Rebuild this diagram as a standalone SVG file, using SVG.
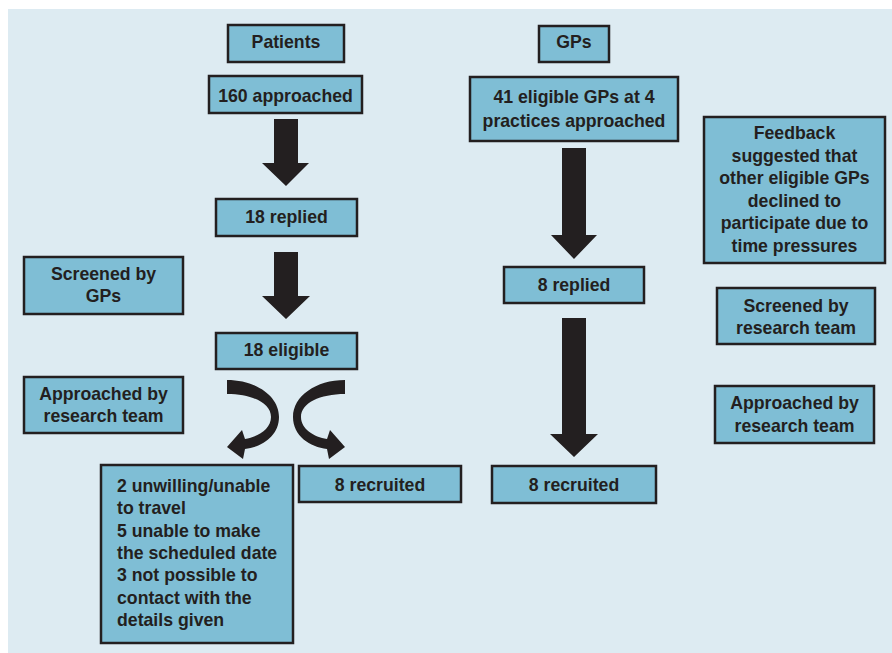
<svg xmlns="http://www.w3.org/2000/svg" width="892" height="653" viewBox="0 0 892 653">
<style>
.box{fill:#7fbed5;stroke:#231f20;stroke-width:2.5}
.t{font-family:"Liberation Sans",Arial,sans-serif;font-weight:bold;font-size:17.7px;fill:#231f20;text-anchor:middle}
.tl{text-anchor:start}
.arr{fill:#231f20}
</style>
<rect x="0" y="0" width="892" height="653" fill="#ffffff"/>
<rect x="8" y="9" width="884" height="644" fill="#ddebf2"/>

<g id="connectors">
  <polygon class="arr" points="274,119 298,119 298,163 309,163 286,186 262,163 274,163"/>
  <polygon class="arr" points="274,252 298,252 298,296 310,296 286,319 262,296 274,296"/>
  <polygon class="arr" points="562,148 586,148 586,235 597,235 574,259 551,235 562,235"/>
  <polygon class="arr" points="562,318 586,318 586,434 598,434 574,457 550,434 562,434"/>
  <path id="curveL" class="arr" d="M227,380 C256,380 279,396 279,417 C279,436 262,447 245,449 L243,459 L227,447 L242,430 L245,439 C258,437 271,429 271,417 C271,403 252,394 227,394 Z"/>
  <path id="curveR" class="arr" transform="matrix(-1,0,0,1,572,0)" d="M227,380 C256,380 279,396 279,417 C279,436 262,447 245,449 L243,459 L227,447 L242,430 L245,439 C258,437 271,429 271,417 C271,403 252,394 227,394 Z"/>
</g>

<g id="patients">
  <rect class="box" x="228" y="25" width="116" height="37"/>
  <text class="t" x="286" y="48">Patients</text>
</g>
<g id="approached160">
  <rect class="box" x="209" y="76" width="153" height="37"/>
  <text class="t" x="285.5" y="102">160 approached</text>
</g>
<g id="replied18">
  <rect class="box" x="216" y="199" width="141" height="37"/>
  <text class="t" x="286.5" y="223">18 replied</text>
</g>
<g id="eligible18">
  <rect class="box" x="216" y="333" width="141" height="36"/>
  <text class="t" x="286.5" y="356">18 eligible</text>
</g>
<g id="screenedGPs">
  <rect class="box" x="24" y="257" width="159" height="57"/>
  <text class="t" x="103.5" y="280">Screened by</text>
  <text class="t" x="103.5" y="302">GPs</text>
</g>
<g id="approachedLeft">
  <rect class="box" x="24" y="377" width="159" height="56"/>
  <text class="t" x="103.5" y="400">Approached by</text>
  <text class="t" x="103.5" y="422">research team</text>
</g>
<g id="declined">
  <rect class="box" x="101" y="465" width="192" height="178"/>
  <text class="t tl" x="117" y="492">2 unwilling/unable</text>
  <text class="t tl" x="117" y="514.3">to travel</text>
  <text class="t tl" x="117" y="536.6">5 unable to make</text>
  <text class="t tl" x="117" y="558.9">the scheduled date</text>
  <text class="t tl" x="117" y="581.2">3 not possible to</text>
  <text class="t tl" x="117" y="603.5">contact with the</text>
  <text class="t tl" x="117" y="625.8">details given</text>
</g>
<g id="recruitedLeft">
  <rect class="box" x="299" y="466" width="162" height="36"/>
  <text class="t" x="380" y="491">8 recruited</text>
</g>
<g id="gps">
  <rect class="box" x="539" y="26" width="70" height="36"/>
  <text class="t" x="574" y="48">GPs</text>
</g>
<g id="eligibleGPs">
  <rect class="box" x="470" y="77" width="208" height="64"/>
  <text class="t" x="574" y="103">41 eligible GPs at 4</text>
  <text class="t" x="574" y="127">practices approached</text>
</g>
<g id="replied8">
  <rect class="box" x="504" y="267" width="140" height="36"/>
  <text class="t" x="574" y="291">8 replied</text>
</g>
<g id="recruitedRight">
  <rect class="box" x="492" y="466" width="164" height="37"/>
  <text class="t" x="574" y="491">8 recruited</text>
</g>
<g id="feedback">
  <rect class="box" x="704" y="117" width="181" height="146"/>
  <text class="t" x="794.5" y="139">Feedback</text>
  <text class="t" x="794.5" y="161.5">suggested that</text>
  <text class="t" x="794.5" y="184">other eligible GPs</text>
  <text class="t" x="794.5" y="206.5">declined to</text>
  <text class="t" x="794.5" y="229">participate due to</text>
  <text class="t" x="794.5" y="251.5">time pressures</text>
</g>
<g id="screenedResearch">
  <rect class="box" x="717" y="288" width="158" height="56"/>
  <text class="t" x="796" y="312">Screened by</text>
  <text class="t" x="796" y="334">research team</text>
</g>
<g id="approachedRight">
  <rect class="box" x="715" y="386" width="159" height="57"/>
  <text class="t" x="794.5" y="409">Approached by</text>
  <text class="t" x="794.5" y="432">research team</text>
</g>
</svg>
